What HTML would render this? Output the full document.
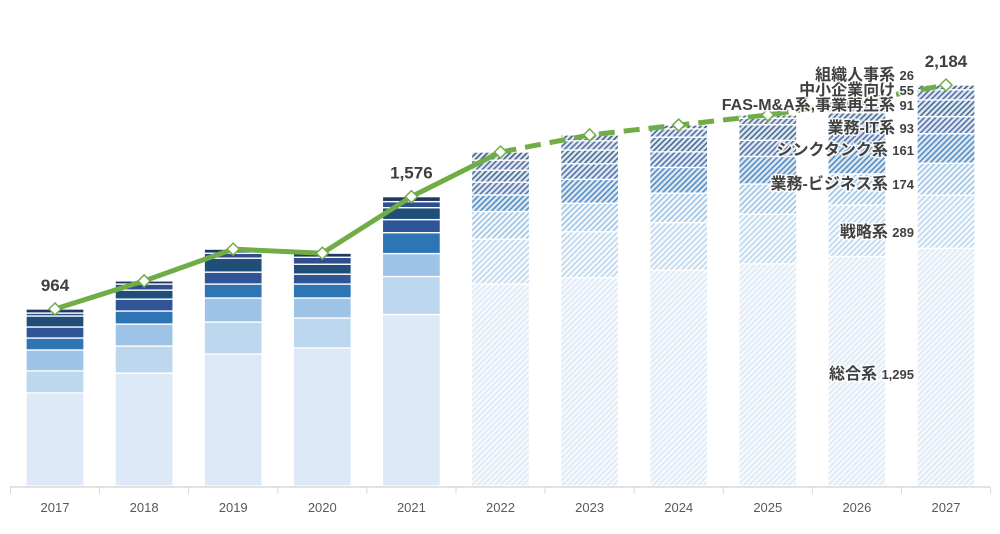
<!DOCTYPE html>
<html><head><meta charset="utf-8"><style>
html,body{margin:0;padding:0;background:#fff;}
svg{display:block;font-family:"Liberation Sans","Noto Sans CJK JP",sans-serif;}
</style></head><body>
<svg id="chart" width="1000" height="534" viewBox="0 0 1000 534" xmlns="http://www.w3.org/2000/svg">
<defs id="defs"></defs>
<g id="bars"></g>
<g id="axis"></g>
<g id="line"></g>
<g id="labels"></g>
</svg>
<script>
const years = ["2017","2018","2019","2020","2021","2022","2023","2024","2025","2026","2027"];
const seriesNames = ["総合系","戦略系","業務-ビジネス系","シンクタンク系","業務-IT系","FAS-M&A系,事業再生系","中小企業向け","組織人事系"];
const sogo     = [507,615,719,752,934,1100,1135,1175,1210,1250,1295];
const senryaku = [120,147,174,163,207,245,250,260,270,280,289];
const business = [114,120,131,109,125,150,155,160,165,170,174];
const thinktank= [65,71,76,76,114,90,130,140,150,155,161];
const gyomuIT  = [60,65,65,54,71,70,85,85,88,90,93];
const fas      = [60,49,76,54,65,65,75,80,85,88,91];
const chusho   = [16,33,27,38,33,55,50,45,35,40,55];
const soshiki  = [22,17,22,22,27,44,32,21,18,20,26];
const totalLabels = ["964","","","","1,576","","","","","","2,184"];
const labelNames = ["総合系","戦略系","業務-ビジネス系","シンクタンク系","業務-IT系","FAS-M&A系,事業再生系","中小企業向け","組織人事系"];
const labelValues = ["1,295","289","174","161","93","91","55","26"];
const forecastStart = 5;

const series=[sogo,senryaku,business,thinktank,gyomuIT,fas,chusho,soshiki];
const colors=["#dde9f6","#bdd7ee","#9dc3e6","#2e75b6","#2f5597","#1f4e79","#2f4f8f","#1f3864"];
const NS="http://www.w3.org/2000/svg";
const base=486, scale=0.1836, x0=55, step=89.1, bw=58;
const xs=i=>x0+i*step;
const ys=v=>base-v*scale;
function mk(t,a,p){const e=document.createElementNS(NS,t);for(const k in a)e.setAttribute(k,a[k]);p.appendChild(e);return e;}
const defs=document.getElementById('defs');
colors.forEach((c,k)=>{
  const p=mk('pattern',{id:'h'+k,patternUnits:'userSpaceOnUse',width:4,height:4,patternTransform:'rotate(45)'},defs);
  mk('rect',{x:0,y:0,width:4,height:4,fill:k<3?'#f7fafd':'#dfe8f3'},p);
  mk('rect',{x:0,y:0,width:1.6,height:4,fill:c,opacity:k<3?1:0.8},p);
});
const gb=document.getElementById('bars');
const totals=years.map((_,i)=>series.reduce((s,a)=>s+a[i],0));
years.forEach((y,i)=>{
  let acc=0;
  series.forEach((arr,k)=>{
    const y1=ys(acc), y2=ys(acc+arr[i]);
    const r=mk('rect',{x:xs(i)-bw/2,y:y2,width:bw,height:y1-y2,fill:i>=forecastStart?'url(#h'+k+')':colors[k],stroke:'#fff','stroke-width':1.3},gb);
    
    
    acc+=arr[i];
  });
});
const ga=document.getElementById('axis');
mk('line',{x1:10,x2:990,y1:base+1,y2:base+1,stroke:'#d9d9d9','stroke-width':1.5},ga);
for(let i=0;i<=years.length;i++){const tx=xs(i)-step/2;mk('line',{x1:tx,x2:tx,y1:base+1,y2:base+8,stroke:'#d9d9d9','stroke-width':1},ga);}
years.forEach((y,i)=>{
  const t=mk('text',{x:xs(i),y:512,'text-anchor':'middle','font-size':13,fill:'#595959'},ga);
  t.textContent=y;
  
  
});
const gl=document.getElementById('line');
const pts=totals.map((v,i)=>[xs(i),ys(v)]);
mk('polyline',{points:pts.slice(0,forecastStart+1).map(p=>p.join(',')).join(' '),fill:'none',stroke:'#70ad47','stroke-width':5,'stroke-linejoin':'round'},gl);
mk('polyline',{points:pts.slice(forecastStart).map(p=>p.join(',')).join(' '),fill:'none',stroke:'#70ad47','stroke-width':5,'stroke-dasharray':'16,9'},gl);
pts.forEach((p,i)=>{
  const d=mk('path',{d:`M${p[0]} ${p[1]-6}L${p[0]+6} ${p[1]}L${p[0]} ${p[1]+6}L${p[0]-6} ${p[1]}Z`,fill:'#fff',stroke:'#70ad47','stroke-width':1.5},gl);
  
  
  if(totalLabels[i]){
    const t=mk('text',{x:p[0],y:p[1]-18,'text-anchor':'middle','font-size':17,'font-weight':'bold',fill:'#404040'},gl);
    t.textContent=totalLabels[i];
    
    
  }
});
const glab=document.getElementById('labels');
const labelY=[379,237,189,155,133,110,95,80];
labelNames.forEach((s,k)=>{
  const t=mk('text',{x:914,y:labelY[k],'text-anchor':'end','font-weight':'bold',fill:'#404040',stroke:'rgba(255,255,255,0.85)','stroke-width':3,'paint-order':'stroke'},glab);
  const a=mk('tspan',{'font-size':16},t); a.textContent=s+' ';
  const b=mk('tspan',{'font-size':13},t); b.textContent=labelValues[k];
  
  
});
</script>
</body></html>
